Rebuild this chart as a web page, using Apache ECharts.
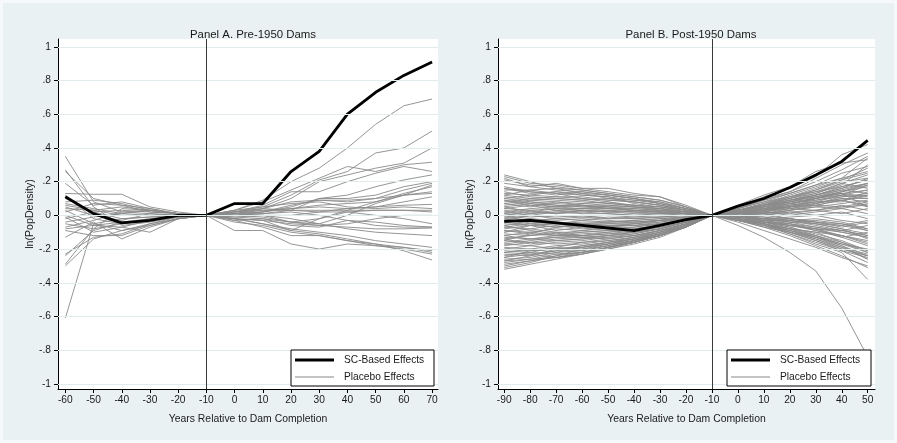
<!DOCTYPE html>
<html>
<head>
<meta charset="utf-8">
<script src="https://cdn.jsdelivr.net/npm/echarts@6/dist/echarts.min.js"></script>
<style>
html,body{margin:0;padding:0;background:#f6f9fa;}
#chart{width:897px;height:443px;}
</style>
</head>
<body>
<div id="chart"></div>
<script>
// ---------------- DATA ----------------
const titleA = 'Panel A. Pre-1950 Dams';
const titleB = 'Panel B. Post-1950 Dams';
const xTitle = 'Years Relative to Dam Completion';
const yTitle = 'ln(PopDensity)';
const legendNames = ['SC-Based Effects', 'Placebo Effects'];

const yTicks = [-1, -0.8, -0.6, -0.4, -0.2, 0, 0.2, 0.4, 0.6, 0.8, 1];
const xA = [-60, -50, -40, -30, -20, -10, 0, 10, 20, 30, 40, 50, 60, 70];
const xB = [-90, -80, -70, -60, -50, -40, -30, -20, -10, 0, 10, 20, 30, 40, 50];
const treatYear = -10;

const scA = [0.11, 0.01, -0.045, -0.03, 0.0, 0, 0.07, 0.07, 0.26, 0.38, 0.60, 0.73, 0.83, 0.91];
const scB = [-0.035, -0.03, -0.045, -0.06, -0.075, -0.09, -0.06, -0.025, 0, 0.055, 0.10, 0.165, 0.24, 0.32, 0.445];

const placeboA = [
  [0.35, 0.08, 0.02, 0.03, 0.01, 0, 0.03, 0.09, 0.20, 0.28, 0.40, 0.54, 0.65, 0.69],
  [0.27, 0.05, -0.06, -0.04, -0.01, 0, 0.02, 0.05, 0.12, 0.21, 0.26, 0.37, 0.40, 0.50],
  [0.26, 0.10, 0.06, 0.02, 0.01, 0, 0.01, 0.04, 0.10, 0.20, 0.24, 0.28, 0.31, 0.40],
  [0.19, 0.06, 0.08, 0.04, 0.01, 0, 0.03, 0.08, 0.15, 0.22, 0.29, 0.26, 0.30, 0.315],
  [0.13, 0.125, 0.125, 0.05, 0.02, 0, 0.02, 0.06, 0.14, 0.14, 0.20, 0.25, 0.29, 0.26],
  [0.12, -0.02, -0.05, -0.02, 0.0, 0, 0.01, 0.02, 0.05, 0.10, 0.12, 0.17, 0.21, 0.24],
  [0.08, 0.09, 0.07, 0.03, 0.01, 0, 0.0, 0.01, 0.03, 0.10, 0.10, 0.12, 0.17, 0.20],
  [0.06, 0.03, 0.0, 0.0, 0.0, 0, 0.02, 0.04, 0.08, 0.09, 0.08, 0.10, 0.15, 0.19],
  [0.05, 0.0, -0.03, 0.01, 0.0, 0, -0.01, 0.0, -0.04, -0.05, 0.0, 0.07, 0.12, 0.18],
  [0.03, -0.05, -0.09, -0.05, -0.01, 0, -0.02, -0.03, -0.09, -0.02, 0.03, 0.08, 0.13, 0.17],
  [0.0, -0.06, -0.04, -0.02, -0.01, 0, 0.01, 0.03, 0.04, 0.06, 0.07, 0.08, 0.12, 0.14],
  [-0.02, 0.02, 0.03, 0.02, 0.01, 0, 0.02, 0.04, 0.03, 0.02, 0.04, 0.05, 0.08, 0.11],
  [-0.05, -0.08, -0.05, -0.03, -0.01, 0, 0.0, 0.02, 0.04, 0.05, 0.04, 0.05, 0.06, 0.065],
  [-0.07, -0.03, 0.02, 0.01, 0.0, 0, 0.03, 0.05, 0.07, 0.08, 0.05, 0.04, 0.05, 0.04],
  [-0.08, -0.06, -0.07, -0.03, -0.01, 0, 0.02, 0.03, 0.03, 0.03, 0.03, 0.03, 0.03, 0.03],
  [-0.09, -0.12, -0.12, -0.06, -0.02, 0, 0.0, 0.0, 0.0, 0.02, 0.02, 0.03, 0.03, 0.02],
  [-0.13, -0.04, -0.14, -0.07, -0.02, 0, -0.01, -0.02, -0.04, -0.02, 0.02, 0.0, -0.02, -0.05],
  [-0.23, -0.13, -0.11, -0.05, -0.02, 0, -0.03, -0.02, -0.06, -0.07, -0.03, -0.04, -0.06, -0.07],
  [-0.24, -0.09, -0.04, -0.03, -0.01, 0, -0.02, -0.03, -0.05, -0.06, -0.07, -0.08, -0.08, -0.075],
  [-0.29, -0.08, 0.04, 0.03, 0.01, 0, 0.01, 0.0, -0.02, -0.05, -0.08, -0.10, -0.11, -0.12],
  [-0.30, -0.14, -0.09, -0.06, -0.02, 0, -0.02, -0.05, -0.08, -0.10, -0.12, -0.15, -0.17, -0.19],
  [-0.61, -0.05, -0.02, -0.01, 0.0, 0, -0.03, -0.07, -0.12, -0.12, -0.15, -0.17, -0.19, -0.21],
  [0.10, 0.02, -0.02, -0.01, 0.0, 0, -0.09, -0.09, -0.17, -0.20, -0.17, -0.18, -0.19, -0.22],
  [0.04, 0.03, 0.05, 0.03, 0.01, 0, -0.04, -0.06, -0.10, -0.12, -0.15, -0.18, -0.20, -0.23],
  [-0.04, -0.01, 0.01, 0.03, 0.01, 0, -0.02, -0.05, -0.09, -0.11, -0.14, -0.17, -0.21, -0.265],
  [0.02, 0.07, 0.06, 0.04, 0.01, 0, 0.01, 0.02, 0.06, 0.09, 0.09, 0.10, 0.12, 0.13],
  [-0.01, -0.10, -0.07, -0.10, -0.02, 0, 0.0, -0.01, -0.04, -0.06, -0.05, -0.02, 0.0, 0.0],
  [0.07, 0.04, 0.01, 0.0, 0.0, 0, 0.01, 0.01, 0.02, 0.0, -0.03, -0.06, -0.07, -0.07]
];

const placeboB = [
  [0.24, 0.20, 0.16, 0.15, 0.13, 0.11, 0.09, 0.05, 0, 0.02, 0.05, 0.08, 0.10, 0.13, 0.15],
  [0.23, 0.19, 0.18, 0.16, 0.14, 0.12, 0.11, 0.05, 0, -0.01, -0.03, -0.05, -0.08, -0.10, -0.13],
  [0.22, 0.17, 0.19, 0.16, 0.16, 0.13, 0.11, 0.06, 0, 0.03, 0.07, 0.12, 0.17, 0.22, 0.26],
  [0.16, 0.14, 0.12, 0.14, 0.12, 0.10, 0.07, 0.04, 0, 0.02, 0.04, 0.05, 0.09, 0.12, 0.18],
  [0.15, 0.15, 0.16, 0.13, 0.10, 0.09, 0.08, 0.04, 0, -0.02, -0.05, -0.09, -0.13, -0.17, -0.22],
  [0.12, 0.10, 0.11, 0.10, 0.09, 0.08, 0.06, 0.03, 0, 0.04, 0.09, 0.14, 0.22, 0.30, 0.37],
  [0.10, 0.12, 0.14, 0.12, 0.11, 0.07, 0.05, 0.03, 0, 0.01, 0.02, 0.01, 0.03, 0.05, 0.06],
  [0.09, 0.06, 0.05, 0.07, 0.06, 0.05, 0.04, 0.02, 0, -0.03, -0.06, -0.10, -0.14, -0.20, -0.24],
  [0.08, 0.10, 0.09, 0.08, 0.07, 0.06, 0.05, 0.03, 0, 0.03, 0.06, 0.10, 0.14, 0.17, 0.21],
  [0.07, 0.05, 0.08, 0.06, 0.04, 0.04, 0.03, 0.01, 0, 0.00, 0.01, -0.02, -0.04, -0.05, -0.08],
  [0.06, 0.08, 0.06, 0.05, 0.06, 0.05, 0.04, 0.02, 0, 0.02, 0.03, 0.06, 0.08, 0.09, 0.12],
  [0.05, 0.02, 0.04, 0.03, 0.02, 0.02, 0.02, 0.01, 0, -0.02, -0.04, -0.05, -0.09, -0.12, -0.15],
  [0.04, 0.06, 0.03, 0.04, 0.05, 0.03, 0.03, 0.02, 0, 0.03, 0.05, 0.09, 0.11, 0.14, 0.19],
  [0.03, 0.01, 0.02, 0.01, 0.01, 0.00, 0.01, 0.01, 0, 0.01, 0.00, 0.02, 0.03, 0.01, 0.04],
  [0.02, 0.04, 0.05, 0.06, 0.05, 0.04, 0.03, 0.01, 0, -0.01, -0.02, -0.04, -0.05, -0.06, -0.03],
  [0.01, -0.01, 0.00, -0.01, 0.00, -0.01, 0.00, 0.00, 0, 0.02, 0.04, 0.05, 0.07, 0.10, 0.10],
  [0.00, 0.02, 0.01, 0.03, 0.02, 0.01, 0.01, 0.00, 0, -0.03, -0.05, -0.08, -0.12, -0.17, -0.20],
  [-0.01, -0.03, -0.02, -0.03, -0.01, -0.02, -0.01, 0.00, 0, 0.03, 0.06, 0.08, 0.12, 0.16, 0.22],
  [-0.02, 0.00, -0.01, 0.00, -0.02, -0.01, -0.01, -0.01, 0, 0.00, -0.02, -0.01, 0.00, 0.02, -0.02],
  [-0.03, -0.05, -0.04, -0.05, -0.04, -0.03, -0.02, -0.01, 0, -0.02, -0.04, -0.06, -0.08, -0.09, -0.12],
  [-0.04, -0.02, -0.03, -0.02, -0.03, -0.04, -0.03, -0.01, 0, 0.04, 0.08, 0.11, 0.15, 0.21, 0.28],
  [-0.05, -0.06, -0.07, -0.06, -0.05, -0.05, -0.03, -0.02, 0, -0.01, 0.00, 0.03, 0.05, 0.07, 0.09],
  [-0.06, -0.04, -0.05, -0.07, -0.06, -0.06, -0.04, -0.02, 0, -0.03, -0.07, -0.10, -0.15, -0.21, -0.25],
  [-0.07, -0.08, -0.06, -0.08, -0.07, -0.05, -0.04, -0.02, 0, 0.01, 0.03, 0.04, 0.06, 0.05, 0.08],
  [-0.08, -0.06, -0.09, -0.07, -0.08, -0.07, -0.05, -0.02, 0, -0.01, -0.03, -0.03, -0.05, -0.08, -0.14],
  [-0.09, -0.10, -0.08, -0.09, -0.07, -0.06, -0.05, -0.03, 0, 0.02, 0.05, 0.07, 0.10, 0.12, 0.15],
  [-0.10, -0.08, -0.10, -0.10, -0.09, -0.08, -0.06, -0.03, 0, 0.00, -0.01, -0.03, -0.06, -0.09, -0.12],
  [-0.11, -0.12, -0.11, -0.09, -0.08, -0.07, -0.05, -0.03, 0, -0.02, -0.06, -0.09, -0.14, -0.19, -0.23],
  [-0.12, -0.10, -0.12, -0.11, -0.10, -0.09, -0.06, -0.03, 0, 0.03, 0.06, 0.10, 0.13, 0.19, 0.24],
  [-0.13, -0.14, -0.13, -0.12, -0.11, -0.09, -0.07, -0.04, 0, 0.01, 0.02, 0.00, 0.02, 0.04, 0.01],
  [-0.14, -0.12, -0.10, -0.12, -0.10, -0.08, -0.06, -0.03, 0, -0.02, -0.05, -0.08, -0.10, -0.12, -0.17],
  [-0.15, -0.16, -0.14, -0.13, -0.12, -0.10, -0.08, -0.04, 0, 0.02, 0.04, 0.07, 0.09, 0.11, 0.13],
  [-0.16, -0.14, -0.15, -0.14, -0.13, -0.11, -0.08, -0.04, 0, -0.01, -0.02, -0.04, -0.07, -0.10, -0.13],
  [-0.17, -0.18, -0.16, -0.15, -0.13, -0.12, -0.09, -0.05, 0, 0.03, 0.07, 0.10, 0.15, 0.20, 0.22],
  [-0.18, -0.16, -0.17, -0.16, -0.14, -0.12, -0.09, -0.05, 0, -0.03, -0.07, -0.12, -0.18, -0.24, -0.31],
  [-0.19, -0.20, -0.18, -0.17, -0.15, -0.13, -0.10, -0.05, 0, 0.00, 0.01, 0.03, 0.05, 0.04, 0.07],
  [-0.20, -0.18, -0.20, -0.18, -0.16, -0.13, -0.10, -0.06, 0, -0.02, -0.04, -0.06, -0.08, -0.12, -0.16],
  [-0.21, -0.22, -0.19, -0.20, -0.17, -0.14, -0.11, -0.06, 0, 0.02, 0.05, 0.09, 0.12, 0.16, 0.19],
  [-0.22, -0.20, -0.22, -0.19, -0.16, -0.14, -0.11, -0.06, 0, -0.01, -0.03, -0.06, -0.09, -0.13, -0.10],
  [-0.23, -0.24, -0.21, -0.21, -0.18, -0.15, -0.12, -0.07, 0, -0.02, -0.05, -0.10, -0.15, -0.20, -0.24],
  [-0.24, -0.22, -0.23, -0.22, -0.19, -0.15, -0.12, -0.07, 0, 0.03, 0.06, 0.11, 0.14, 0.19, 0.16],
  [-0.25, -0.23, -0.25, -0.23, -0.19, -0.16, -0.12, -0.07, 0, 0.00, 0.00, 0.02, 0.00, -0.03, -0.05],
  [-0.26, -0.25, -0.22, -0.21, -0.18, -0.15, -0.11, -0.06, 0, -0.03, -0.06, -0.11, -0.17, -0.22, -0.38],
  [-0.27, -0.24, -0.20, -0.19, -0.17, -0.14, -0.10, -0.06, 0, 0.01, 0.03, 0.06, 0.08, 0.12, 0.10],
  [-0.28, -0.26, -0.23, -0.22, -0.19, -0.16, -0.12, -0.06, 0, -0.02, -0.04, -0.07, -0.11, -0.15, -0.21],
  [-0.29, -0.27, -0.24, -0.20, -0.18, -0.15, -0.11, -0.06, 0, 0.02, 0.04, 0.08, 0.12, 0.17, 0.21],
  [-0.31, -0.28, -0.24, -0.22, -0.19, -0.16, -0.12, -0.06, 0, -0.01, -0.02, -0.05, -0.07, -0.09, -0.06],
  [-0.32, -0.29, -0.26, -0.23, -0.20, -0.17, -0.13, -0.07, 0, 0.01, 0.02, 0.05, 0.07, 0.11, 0.12],
  [0.05, 0.07, 0.06, 0.05, 0.04, 0.03, 0.02, 0.01, 0, -0.06, -0.13, -0.22, -0.33, -0.55, -0.84],
  [0.19, 0.17, 0.15, 0.14, 0.12, 0.10, 0.08, 0.04, 0, 0.04, 0.10, 0.14, 0.20, 0.27, 0.35],
  [0.17, 0.14, 0.13, 0.12, 0.11, 0.09, 0.07, 0.03, 0, 0.05, 0.11, 0.16, 0.23, 0.36, 0.42],
  [0.13, 0.12, 0.11, 0.11, 0.09, 0.08, 0.06, 0.03, 0, 0.06, 0.12, 0.17, 0.26, 0.31, 0.33],
  [0.11, 0.09, 0.08, 0.07, 0.08, 0.06, 0.05, 0.02, 0, -0.04, -0.09, -0.14, -0.19, -0.25, -0.30],
  [-0.06, -0.09, -0.11, -0.13, -0.14, -0.12, -0.09, -0.05, 0, 0.04, 0.08, 0.13, 0.18, 0.22, 0.34],
  [0.00, -0.02, -0.04, -0.05, -0.06, -0.06, -0.05, -0.03, 0, 0.00, -0.04, -0.08, -0.10, -0.16, -0.22],
  [0.09, 0.07, 0.05, 0.04, 0.04, 0.03, 0.02, 0.01, 0, 0.02, 0.05, 0.08, 0.11, 0.13, 0.05],
  [-0.03, 0.00, 0.02, 0.03, 0.02, 0.03, 0.02, 0.01, 0, -0.02, -0.03, -0.02, -0.04, -0.07, -0.04],
  [-0.15, -0.11, -0.07, -0.05, -0.05, -0.04, -0.03, -0.02, 0, 0.01, 0.02, 0.04, 0.03, 0.06, 0.03],
  [0.12, 0.15, 0.13, 0.10, 0.08, 0.05, 0.03, 0.02, 0, -0.01, -0.02, -0.04, -0.03, -0.05, -0.09],
  [-0.10, -0.06, -0.05, -0.03, -0.04, -0.03, -0.02, -0.01, 0, 0.00, 0.02, 0.05, 0.08, 0.08, 0.14],
  [0.21, 0.18, 0.17, 0.15, 0.13, 0.11, 0.09, 0.05, 0, 0.03, 0.06, 0.09, 0.13, 0.18, 0.30],
  [0.14, 0.11, 0.10, 0.09, 0.10, 0.08, 0.06, 0.03, 0, -0.02, -0.04, -0.07, -0.12, -0.16, -0.21],
  [0.10, 0.08, 0.07, 0.06, 0.05, 0.05, 0.04, 0.02, 0, 0.03, 0.07, 0.11, 0.16, 0.21, 0.25],
  [0.07, 0.09, 0.10, 0.09, 0.07, 0.06, 0.04, 0.02, 0, -0.01, 0.00, -0.02, -0.05, -0.08, -0.11],
  [0.04, 0.03, 0.01, 0.02, 0.03, 0.02, 0.01, 0.01, 0, 0.02, 0.03, 0.05, 0.10, 0.14, 0.17],
  [0.02, 0.00, -0.02, -0.01, -0.02, -0.02, -0.01, 0.00, 0, -0.01, -0.03, -0.06, -0.08, -0.13, -0.18],
  [-0.01, 0.01, 0.03, 0.02, 0.01, 0.00, 0.00, 0.00, 0, 0.01, 0.04, 0.07, 0.10, 0.13, 0.11],
  [-0.04, -0.06, -0.05, -0.04, -0.04, -0.04, -0.03, -0.01, 0, 0.02, 0.01, 0.03, 0.06, 0.09, 0.06],
  [-0.07, -0.05, -0.07, -0.06, -0.06, -0.05, -0.03, -0.02, 0, -0.02, -0.05, -0.09, -0.12, -0.18, -0.26],
  [-0.09, -0.11, -0.12, -0.10, -0.09, -0.08, -0.06, -0.03, 0, 0.01, 0.04, 0.06, 0.11, 0.15, 0.19],
  [-0.12, -0.14, -0.12, -0.12, -0.11, -0.10, -0.07, -0.04, 0, -0.01, -0.01, -0.03, -0.02, -0.04, -0.08],
  [-0.14, -0.17, -0.15, -0.14, -0.12, -0.10, -0.08, -0.04, 0, 0.02, 0.03, 0.05, 0.06, 0.09, 0.05],
  [-0.17, -0.15, -0.13, -0.13, -0.12, -0.11, -0.08, -0.04, 0, -0.02, -0.05, -0.10, -0.13, -0.18, -0.24],
  [-0.20, -0.21, -0.19, -0.16, -0.15, -0.13, -0.09, -0.05, 0, 0.02, 0.06, 0.09, 0.12, 0.15, 0.13],
  [-0.22, -0.23, -0.21, -0.18, -0.16, -0.14, -0.10, -0.05, 0, -0.01, -0.02, -0.02, -0.04, -0.06, -0.09],
  [-0.25, -0.21, -0.20, -0.19, -0.17, -0.15, -0.11, -0.06, 0, 0.01, 0.01, 0.04, 0.07, 0.10, 0.08],
  [-0.27, -0.26, -0.25, -0.23, -0.20, -0.16, -0.12, -0.07, 0, -0.02, -0.05, -0.08, -0.13, -0.19, -0.26],
  [-0.30, -0.27, -0.25, -0.22, -0.19, -0.16, -0.12, -0.06, 0, 0.01, 0.03, 0.07, 0.10, 0.14, 0.18],
  [0.16, 0.13, 0.14, 0.13, 0.12, 0.10, 0.07, 0.04, 0, 0.05, 0.09, 0.13, 0.18, 0.25, 0.29],
  [0.01, 0.03, 0.04, 0.04, 0.03, 0.02, 0.02, 0.01, 0, -0.03, -0.06, -0.11, -0.16, -0.21, -0.28]
];

// ---------------- CHART ----------------
const FONT = '"Liberation Sans", Arial, Helvetica, sans-serif';
const TXT = '#1a1a1a';
const GRAY = '#8a8a8a';
const GRIDCOL = '#e2ebee';

function yFmt(v) {
  const r = Math.round(v * 10) / 10;
  if (r === 0) return '0';
  return String(r).replace('0.', '.');
}
function pairs(xs, ys) { return xs.map((x, i) => [x, ys[i]]); }

const grids = [
  { left: 58, top: 39, width: 380, height: 350, show: true, backgroundColor: '#ffffff', borderWidth: 0 },
  { left: 498, top: 39, width: 377, height: 350, show: true, backgroundColor: '#ffffff', borderWidth: 0 }
];

function xAxisDef(gi, min, max, ticks) {
  return {
    type: 'value', gridIndex: gi, min: min, max: max,
    name: xTitle, nameLocation: 'middle', nameGap: 25,
    nameTextStyle: { fontFamily: FONT, fontSize: 10.4, color: TXT },
    axisLine: { show: true, onZero: false, lineStyle: { color: '#000', width: 1 } },
    axisTick: { show: true, length: 4, lineStyle: { color: '#000' }, customValues: ticks },
    axisLabel: { show: true, margin: 6, fontFamily: FONT, fontSize: 10.2, color: TXT, customValues: ticks, formatter: v => String(v) },
    splitLine: { show: false }
  };
}
function yAxisDef(gi, nameGap) {
  return {
    type: 'value', gridIndex: gi, min: -1.03, max: 1.046,
    name: yTitle, nameLocation: 'middle', nameGap: nameGap, nameRotate: 90,
    nameTextStyle: { fontFamily: FONT, fontSize: 10.6, color: TXT },
    axisLine: { show: true, onZero: false, lineStyle: { color: '#000', width: 1 } },
    axisTick: { show: true, length: 4, lineStyle: { color: '#000' }, customValues: yTicks },
    axisLabel: { show: true, margin: 7, fontFamily: FONT, fontSize: 10.2, color: TXT, customValues: yTicks, formatter: yFmt },
    splitLine: { show: false }
  };
}

const series = [];
function addPanel(gi, xs, placebo, sc) {
  // horizontal gridlines at the y ticks
  series.push({
    type: 'line', name: 'grid', xAxisIndex: gi, yAxisIndex: gi, data: [],
    z: 1, silent: true,
    markLine: {
      silent: true, symbol: 'none', label: { show: false }, animation: false,
      lineStyle: { color: GRIDCOL, width: 1, type: 'solid' },
      data: yTicks.map(v => ({ yAxis: v }))
    }
  });
  placebo.forEach(arr => {
    series.push({
      type: 'line', name: legendNames[1], xAxisIndex: gi, yAxisIndex: gi,
      data: pairs(xs, arr), symbol: 'none', showSymbol: false,
      lineStyle: { color: GRAY, width: 0.9 }, itemStyle: { color: GRAY },
      z: 2, silent: true
    });
  });
  series.push({
    type: 'line', name: legendNames[0], xAxisIndex: gi, yAxisIndex: gi,
    data: pairs(xs, sc), symbol: 'none', showSymbol: false,
    lineStyle: { color: '#000', width: 2.8 }, itemStyle: { color: '#000' },
    z: 4, silent: true,
    markLine: {
      silent: true, symbol: 'none', label: { show: false },
      lineStyle: { color: '#3a3a3a', width: 1, type: 'solid' },
      data: [{ xAxis: treatYear }]
    }
  });
}
addPanel(0, xA, placeboA, scA);
addPanel(1, xB, placeboB, scB);

function legendDef(left) {
  return {
    data: [
      { name: legendNames[0], icon: 'path://M0,0L40,0L40,3L0,3Z', itemStyle: { color: '#000' } },
      { name: legendNames[1], icon: 'path://M0,0L40,0L40,1L0,1Z', itemStyle: { color: GRAY } }
    ],
    orient: 'vertical', left: left, top: 355,
    itemWidth: 39, itemHeight: 10, itemGap: 7, padding: 0,
    symbolKeepAspect: true,
    selectedMode: false, z: 20,
    textStyle: { fontFamily: FONT, fontSize: 10.2, color: TXT, padding: [0, 0, 0, 5] }
  };
}

const option = {
  animation: false,
  backgroundColor: '#f6f9fa',
  graphic: [
    { type: 'rect', shape: { x: 3, y: 3, width: 891, height: 437 }, style: { fill: '#eaf1f3' }, z: -10, silent: true },
    { type: 'rect', shape: { x: 291, y: 350, width: 143, height: 36 }, style: { fill: '#fff', stroke: '#000', lineWidth: 1 }, z: 15, silent: true },
    { type: 'rect', shape: { x: 727, y: 350, width: 144, height: 36 }, style: { fill: '#fff', stroke: '#000', lineWidth: 1 }, z: 15, silent: true }
  ],
  title: [
    { text: titleA, left: 248, top: 24, textAlign: 'center', textStyle: { fontFamily: FONT, fontSize: 11.4, fontWeight: 'normal', color: TXT } },
    { text: titleB, left: 686, top: 24, textAlign: 'center', textStyle: { fontFamily: FONT, fontSize: 11.4, fontWeight: 'normal', color: TXT } }
  ],
  legend: [legendDef(295), legendDef(731)],
  grid: grids,
  xAxis: [xAxisDef(0, -62.6, 72.1, xA), xAxisDef(1, -92.4, 52.8, xB)],
  yAxis: [yAxisDef(0, 13), yAxisDef(1, 21)],
  series: series
};

const chart = echarts.init(document.getElementById('chart'), null, { renderer: 'canvas' });
chart.setOption(option);
</script>
</body>
</html>
